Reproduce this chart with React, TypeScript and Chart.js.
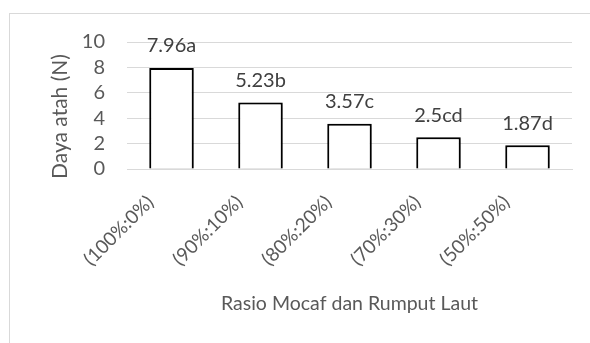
import React, { useEffect, useRef } from "react";
import { Chart, registerables } from "chart.js";

Chart.register(...registerables);

const categories = ["(100%:0%)", "(90%:10%)", "(80%:20%)", "(70%:30%)", "(50%:50%)"];
const values = [7.96, 5.23, 3.57, 2.5, 1.87];
const valueLabels = ["7.96a", "5.23b", "3.57c", "2.5cd", "1.87d"];
const yTitle = "Daya atah (N)";
const xTitle = "Rasio Mocaf dan Rumput Laut";

const FONT = "Lato, 'Open Sans', sans-serif";
const TEXT = "#595959";

const labelPlugin = {
  id: "barLabels",
  afterDatasetsDraw(chart: any) {
    const ctx = chart.ctx;
    const meta = chart.getDatasetMeta(0);
    ctx.save();
    ctx.font = `20px ${FONT}`;
    ctx.fillStyle = "#404040";
    ctx.textAlign = "center";
    ctx.textBaseline = "bottom";
    meta.data.forEach((bar: any, i: number) => {
      ctx.fillText(valueLabels[i], bar.x, bar.y - 12);
    });
    ctx.restore();
  },
};

const yTitlePlugin = {
  id: "yTitle",
  afterDraw(chart: any) {
    const ctx = chart.ctx;
    const area = chart.chartArea;
    ctx.save();
    ctx.font = `21px ${FONT}`;
    ctx.fillStyle = TEXT;
    ctx.textAlign = "center";
    ctx.textBaseline = "middle";
    ctx.translate(60, (area.top + area.bottom) / 2 + 11);
    ctx.rotate(-Math.PI / 2);
    ctx.fillText(yTitle, 0, 0);
    ctx.restore();
  },
};

const shadowPlugin = {
  id: "barShadow",
  beforeDatasetsDraw(chart: any) {
    const ctx = chart.ctx;
    ctx.save();
    ctx.shadowColor = "rgba(0,0,0,0.35)";
    ctx.shadowBlur = 4;
    ctx.shadowOffsetX = 1;
    ctx.shadowOffsetY = 1;
  },
  afterDatasetsDraw(chart: any) {
    chart.ctx.restore();
  },
};

export default function App() {
  const ref = useRef<HTMLCanvasElement>(null);
  useEffect(() => {
    if (!ref.current) return;
    const chart = new Chart(ref.current, {
      type: "bar",
      data: {
        labels: categories,
        datasets: [
          {
            data: values,
            backgroundColor: "#ffffff",
            borderColor: "#000000",
            borderWidth: 2,
            barPercentage: 0.5,
            categoryPercentage: 1,
          },
        ],
      },
      plugins: [shadowPlugin, labelPlugin, yTitlePlugin],
      options: {
        responsive: false,
        animation: false,
        devicePixelRatio: 1,
        layout: { padding: { left: 46, right: 18, top: 42, bottom: 28 } },
        plugins: { legend: { display: false }, tooltip: { enabled: false } },
        scales: {
          x: {
            afterFit: (s: any) => {
              s.height = 146;
            },
            grid: { display: false, drawTicks: false },
            border: { display: true, color: "#d9d9d9", width: 1 },
            ticks: {
              color: TEXT,
              font: { family: FONT, size: 19 },
              maxRotation: 45,
              minRotation: 45,
              autoSkip: false,
              padding: 22,
              labelOffset: -21,
            },
            title: {
              display: true,
              text: xTitle,
              color: TEXT,
              font: { family: FONT, size: 19.5 },
              padding: { top: 10, bottom: 0 },
            },
          },
          y: {
            afterFit: (s: any) => {
              s.width = 81;
            },
            min: 0,
            max: 10,
            ticks: {
              stepSize: 2,
              autoSkip: false,
              color: TEXT,
              font: { family: FONT, size: 20 },
              padding: 22,
            },
            grid: { color: "#d9d9d9", lineWidth: 1, drawTicks: false },
            border: { display: false },
            title: { display: false },
          },
        },
      },
    });
    return () => chart.destroy();
  }, []);

  return (
    <div
      style={{
        position: "fixed",
        left: 0,
        top: 0,
        width: 590,
        height: 343,
        overflow: "hidden",
        background: "#ffffff",
      }}
    >
      <div
        style={{
          position: "absolute",
          left: 9,
          top: 13,
          width: 640,
          height: 400,
          border: "1px solid #d9d9d9",
          boxSizing: "border-box",
        }}
      />
      <canvas
        ref={ref}
        width={590}
        height={343}
        style={{ position: "absolute", left: 0, top: 0, width: 590, height: 343 }}
      />
    </div>
  );
}
